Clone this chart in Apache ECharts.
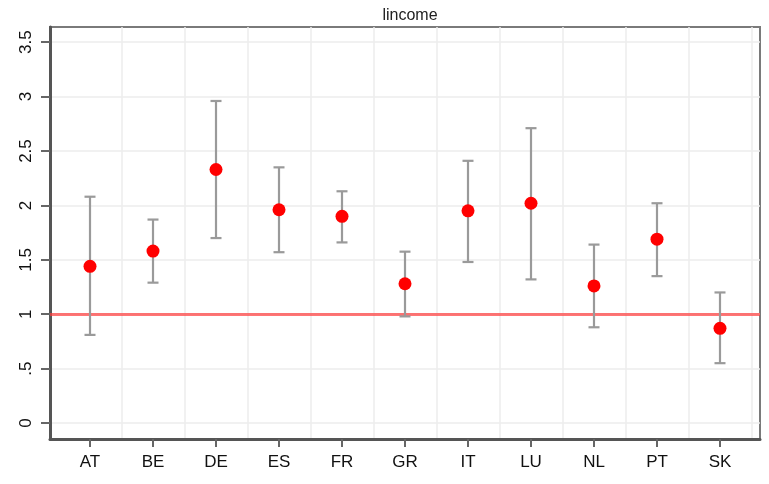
<!DOCTYPE html>
<html>
<head>
<meta charset="utf-8">
<title>lincome</title>
<script src="https://cdn.jsdelivr.net/npm/echarts@6/dist/echarts.min.js"></script>
<style>
  html, body { margin: 0; padding: 0; background: #fff; }
  #chart { width: 769px; height: 484px; }
</style>
</head>
<body>
<div id="chart"></div>
<script>
// Countries along the x axis
const categories = ['AT', 'BE', 'DE', 'ES', 'FR', 'GR', 'IT', 'LU', 'NL', 'PT', 'SK'];
// Point estimates and confidence bounds per country
const estimate = [1.44, 1.58, 2.33, 1.96, 1.90, 1.28, 1.95, 2.02, 1.26, 1.69, 0.87];
const lower    = [0.81, 1.29, 1.70, 1.57, 1.66, 0.98, 1.48, 1.32, 0.88, 1.35, 0.55];
const upper    = [2.08, 1.87, 2.96, 2.35, 2.13, 1.575, 2.41, 2.71, 1.64, 2.02, 1.20];
// Y axis ticks and their printed labels
const yTicks = [0, 0.5, 1, 1.5, 2, 2.5, 3, 3.5];
const yTickLabels = ['0', '.5', '1', '1.5', '2', '2.5', '3', '3.5'];
// Reference level
const refValue = 1;

const FONT = '"Liberation Sans", Arial, Helvetica, sans-serif';
const catIdx = categories.map((_, i) => i);
const bandEdges = categories.map((_, i) => i + 0.5);

const chart = echarts.init(document.getElementById('chart'), null, { renderer: 'canvas' });

const errData = categories.map((_, i) => [i, lower[i], upper[i]]);
const ptData = categories.map((_, i) => [i, estimate[i]]);

chart.setOption({
  animation: false,
  backgroundColor: '#ffffff',
  title: {
    text: 'lincome',
    left: 405,
    textAlign: 'center',
    top: 3,
    textStyle: { fontFamily: FONT, fontSize: 16, fontWeight: 'normal', color: '#222' }
  },
  grid: {
    left: 50, top: 27, width: 710, height: 412,
    show: true, borderColor: '#7a7a7a', borderWidth: 2,
    outerBoundsMode: 'none', containLabel: false
  },
  xAxis: [
    {
      type: 'value', min: -0.635, max: 10.635, position: 'bottom',
      axisLine: { show: true, onZero: false, lineStyle: { color: '#555', width: 3 } },
      axisTick: { show: true, customValues: catIdx, length: 8, lineStyle: { color: '#666', width: 2 } },
      axisLabel: {
        show: true, customValues: catIdx, margin: 15,
        formatter: v => categories[Math.round(v)] || '',
        fontFamily: FONT, fontSize: 17, color: '#111'
      },
      splitLine: { show: false }
    },
    {
      type: 'value', min: -0.635, max: 10.635, position: 'bottom',
      axisLine: { show: false, onZero: false },
      axisTick: { show: false, customValues: bandEdges },
      axisLabel: { show: false },
      splitLine: { show: true, lineStyle: { color: '#ececec', width: 1.5 } }
    }
  ],
  yAxis: {
    type: 'value', min: -0.147, max: 3.64, position: 'left',
    axisLine: { show: true, onZero: false, lineStyle: { color: '#555', width: 3 } },
    axisTick: { show: true, customValues: yTicks, length: 9, lineStyle: { color: '#666', width: 2 } },
    axisLabel: {
      show: true, customValues: yTicks, margin: 15, rotate: 90,
      formatter: v => {
        const k = yTicks.findIndex(t => Math.abs(t - v) < 1e-9);
        return k >= 0 ? yTickLabels[k] : '';
      },
      fontFamily: FONT, fontSize: 17, color: '#111'
    },
    splitLine: { show: true, lineStyle: { color: '#ececec', width: 1.5 } }
  },
  series: [
    {
      type: 'custom',
      name: 'ci',
      xAxisIndex: 0,
      data: errData,
      z: 3,
      silent: true,
      renderItem: (params, api) => {
        const x = api.value(0);
        const lo = api.coord([x, api.value(1)]);
        const hi = api.coord([x, api.value(2)]);
        const cap = 5.5;
        const style = { stroke: '#9a9a9a', lineWidth: 2.2 };
        return {
          type: 'group',
          children: [
            { type: 'line', shape: { x1: lo[0], y1: lo[1], x2: hi[0], y2: hi[1] }, style },
            { type: 'line', shape: { x1: hi[0] - cap, y1: hi[1], x2: hi[0] + cap, y2: hi[1] }, style },
            { type: 'line', shape: { x1: lo[0] - cap, y1: lo[1], x2: lo[0] + cap, y2: lo[1] }, style }
          ]
        };
      }
    },
    {
      type: 'scatter',
      name: 'estimate',
      xAxisIndex: 0,
      data: ptData,
      symbol: 'circle',
      symbolSize: 13,
      z: 4,
      itemStyle: { color: '#ff0000', opacity: 1 },
      markLine: {
        silent: true,
        symbol: ['none', 'none'],
        label: { show: false },
        lineStyle: { color: 'rgba(255, 60, 60, 0.7)', width: 3, type: 'solid' },
        data: [{ yAxis: refValue }],
        z: 2
      }
    }
  ]
});
</script>
</body>
</html>
